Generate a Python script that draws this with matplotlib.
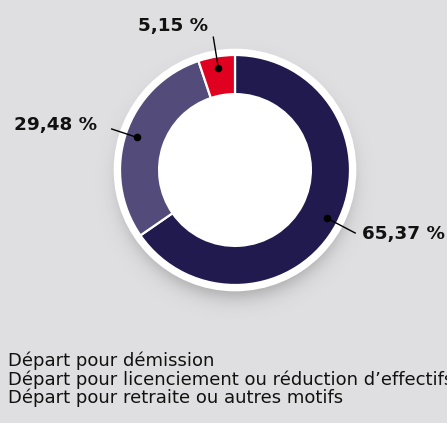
import numpy as np
import matplotlib
matplotlib.use("Agg")
import matplotlib.pyplot as plt
from matplotlib.patches import Circle

categories = ["Départ pour démission",
              "Départ pour licenciement ou réduction d’effectifs",
              "Départ pour retraite ou autres motifs"]
values = [65.37, 29.48, 5.15]
labels = ["65,37 %", "29,48 %", "5,15 %"]
colors = ["#201a4e", "#534c7a", "#e0001f"]
bg = "#dfdfe1"

W, H = 447, 423
fig = plt.figure(figsize=(W / 100, H / 100), dpi=100, facecolor=bg)

# axes: 1 data unit = 115 px, center at (235, 170 from top)
R_PX = 115
half = 1.3
size = 2 * half * R_PX
cx, cy = 235, H - 170
ax = fig.add_axes([(cx - size / 2) / W, (cy - size / 2) / H, size / W, size / H])
ax.set_xlim(-half, half)
ax.set_ylim(-half, half)
ax.set_aspect("equal")
ax.axis("off")

# soft drop shadow
n = 400
xs = np.linspace(-half, half, n)
X, Y = np.meshgrid(xs, xs)
d = np.hypot(X, Y + 0.10)
alpha = 0.38 * 0.5 * (1 - np.tanh((d - 1.0) / 0.10))
img = np.zeros((n, n, 4))
img[..., 0:3] = 0.25
img[..., 3] = alpha
ax.imshow(img, extent=(-half, half, -half, half), origin="lower", zorder=0,
          interpolation="bilinear")

# white outer border
ax.add_patch(Circle((0, 0), 1.055, facecolor="white", edgecolor="none", zorder=1))

wedges, _ = ax.pie(values, colors=colors, startangle=90, counterclock=False,
                   radius=1.0, wedgeprops=dict(width=0.34, edgecolor="white",
                                               linewidth=1.6),
                   normalize=True)
for w in wedges:
    w.set_zorder(2)
ax.add_patch(Circle((0, 0), 0.66, facecolor="white", edgecolor="none", zorder=3))
ax.set_xlim(-half, half)
ax.set_ylim(-half, half)

# label placement (layout): line end radius and text offsets in px
line_end_r = [1.18, 1.13, 1.17]
text_off = [(7, -1, "left"), (-15, 4, "right"), (-40, 11, "center")]
for w, lab, ler, (ox, oy, ha) in zip(wedges, labels, line_end_r, text_off):
    ang = np.deg2rad((w.theta1 + w.theta2) / 2)
    dx, dy = np.cos(ang), np.sin(ang)
    p0 = (0.9 * dx, 0.9 * dy)
    p1 = (ler * dx, ler * dy)
    ax.plot([p0[0], p1[0]], [p0[1], p1[1]], color="black", lw=1.0, zorder=4)
    ax.plot(*p0, "o", color="black", ms=4.5, zorder=4)
    ax.text(p1[0] + ox / R_PX, p1[1] + oy / R_PX, lab, ha=ha, va="center",
            fontsize=13.2, fontweight="bold", family="DejaVu Sans", zorder=5,
            color="#111111")

# legend text lines
for i, c in enumerate(categories):
    fig.text(8 / W, 1 - (366 + 18.5 * i) / H, c, ha="left", va="baseline",
             fontsize=13, color="#111111", family="DejaVu Sans")

fig.savefig("out.png", dpi=100, facecolor=bg)
